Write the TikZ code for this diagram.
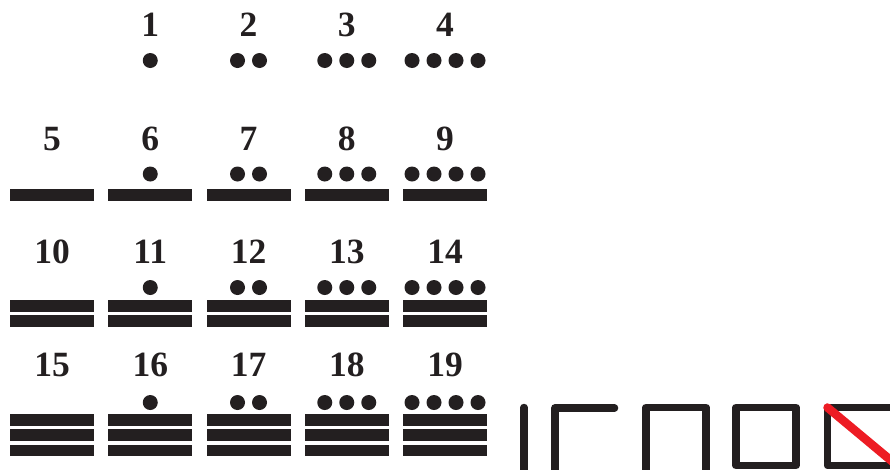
\documentclass[tikz,border=0pt]{standalone}
\usepackage{fontspec}
\setmainfont{Liberation Serif}
\definecolor{ink}{HTML}{231F20}
\definecolor{redline}{HTML}{ED1C24}
\begin{document}
\begin{tikzpicture}[x=1pt,y=-1pt,
  lab/.style={font=\fontsize{35.5}{36}\selectfont\bfseries, text=ink, anchor=base, inner sep=0pt},
  glyph/.style={draw=ink, line width=7.5pt, line cap=round, line join=round}]
\useasboundingbox (0,0) rectangle (890,469);
\foreach \n in {1,...,19}{
  \pgfmathtruncatemacro\c{mod(\n,5)}
  \pgfmathtruncatemacro\r{div(\n,5)}
  \pgfmathsetmacro\cx{52+98.25*\c}
  \pgfmathsetmacro\by{{36,150.7,263.3,376}[\r]}
  \pgfmathsetmacro\dy{{60.5,174,287.5,402.5}[\r]}
  \pgfmathsetmacro\bt{{0,189,300,414}[\r]}
  \node[lab] (n\n) at (\cx,\by) {\n};
  \ifnum\c>0
    \foreach \k in {1,...,\c}{
      \fill[ink] ({\cx+22*(\k-(\c+1)/2)},\dy) circle[radius=7.5];
    }
  \fi
  \ifnum\r>0
    \foreach \b in {1,...,\r}{
      \fill[ink] ({\cx-42},{\bt+(\b-1)*15.3}) rectangle ++(84,11.7);
    }
  \fi
}
% zero-like glyphs at bottom right
\draw[glyph] (524,407.5) -- (524,480);
\draw[glyph] (555,480) -- (555,408) -- (614.5,408);
\draw[glyph] (646,480) -- (646,407.5) -- (706,407.5) -- (706,480);
\draw[glyph] (736,407.5) -- (796,407.5) -- (796,465.5) -- (736,465.5) -- cycle;
\draw[glyph] (827.5,407.5) -- (897,407.5) -- (897,465.5) -- (827.5,465.5) -- cycle;
\draw[redline, line width=8.5pt, line cap=round] (827.5,407.5) -- (897,465.5);
\end{tikzpicture}
\end{document}
